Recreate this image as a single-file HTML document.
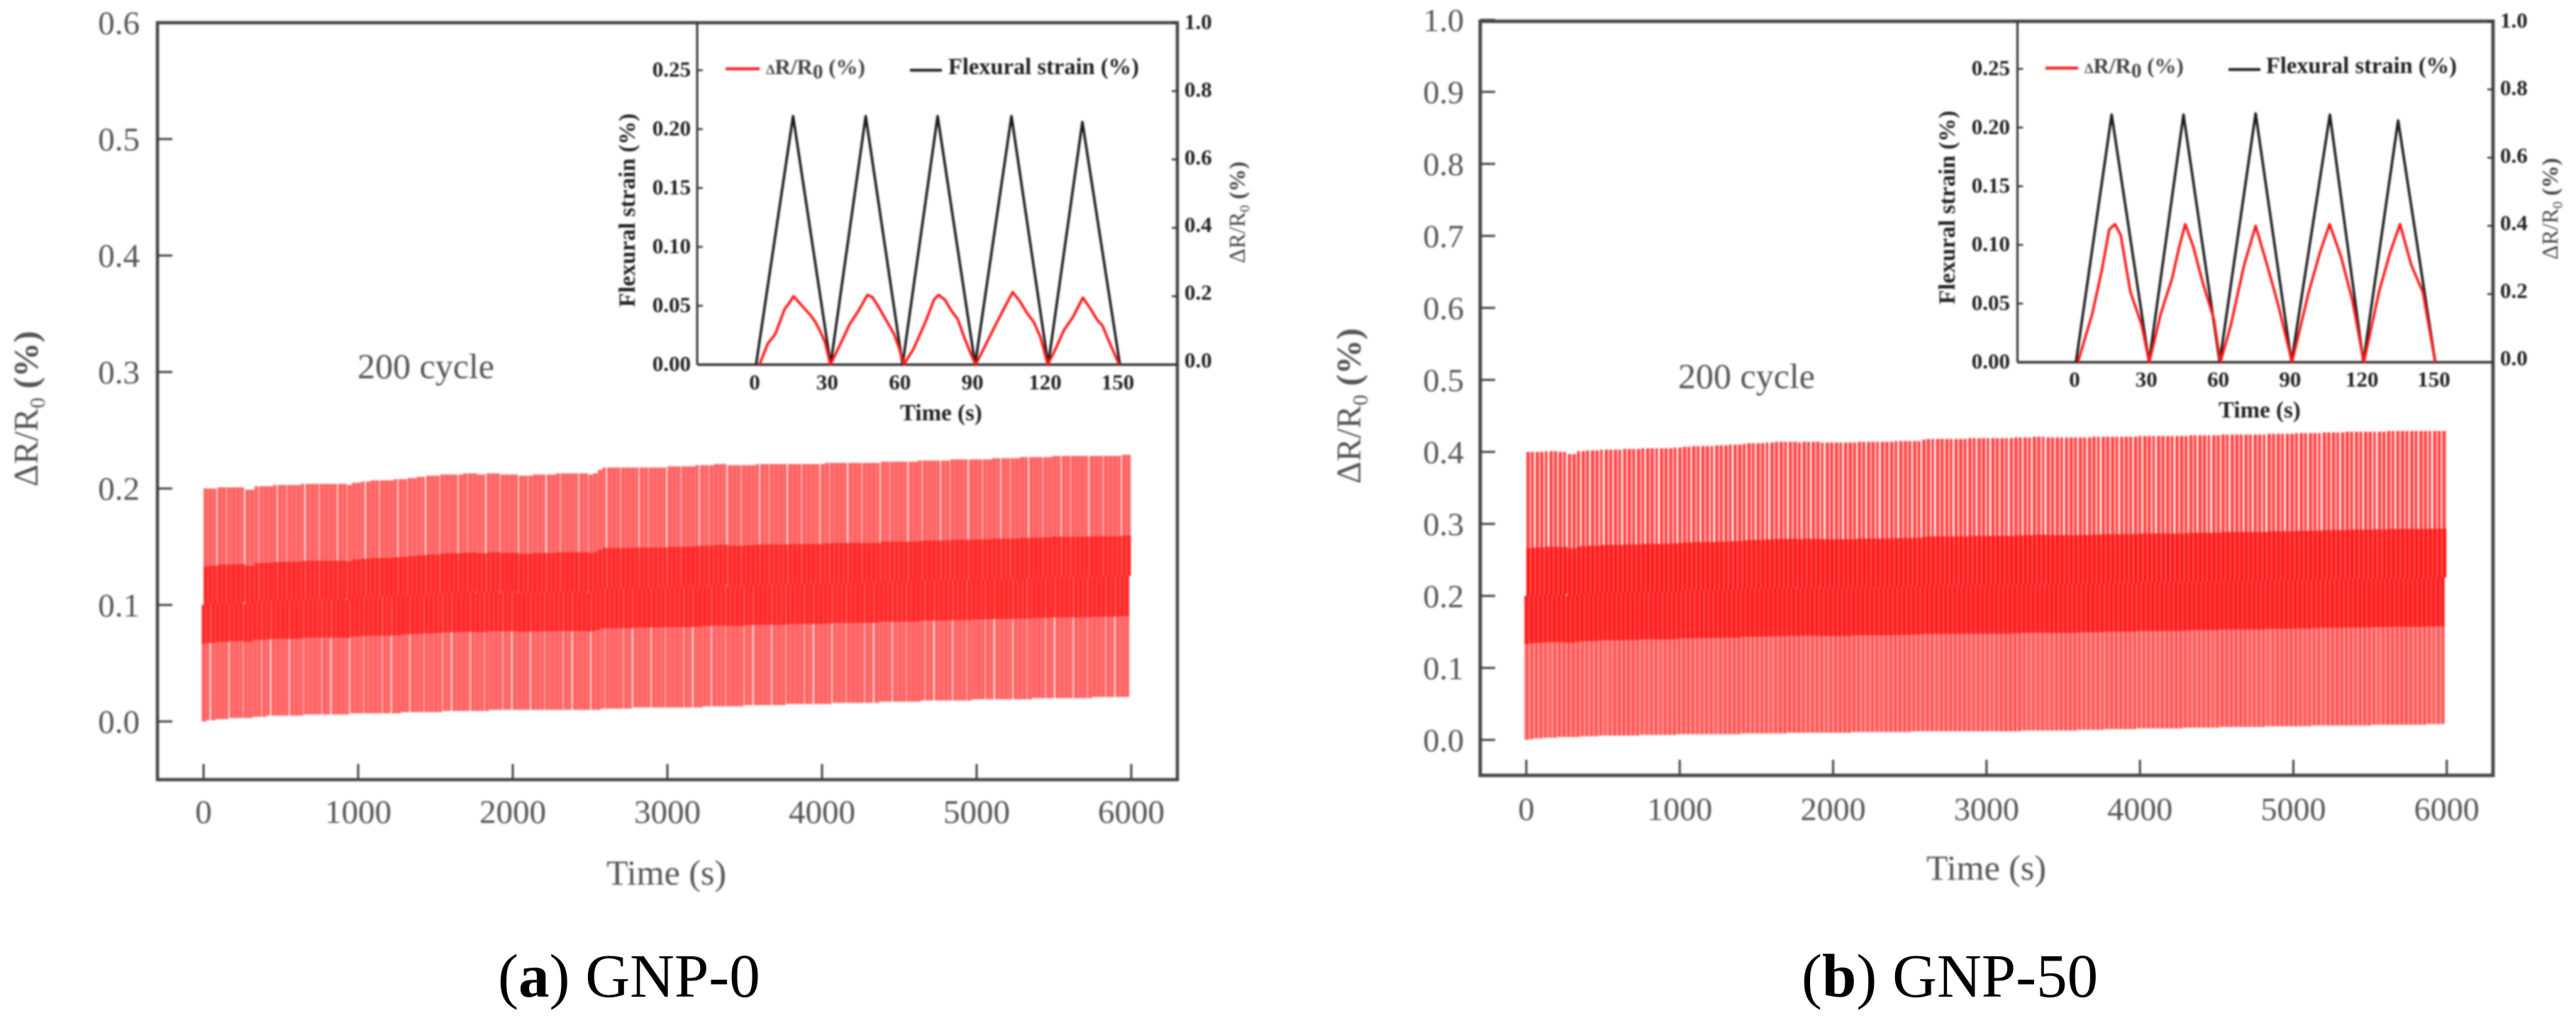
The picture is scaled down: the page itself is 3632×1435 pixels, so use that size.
<!DOCTYPE html>
<html lang="en">
<head>
<meta charset="utf-8">
<title>GNP-0 and GNP-50 cyclic flexural response</title>
<style>
html,body{margin:0;padding:0;background:#fff;}
body{width:3632px;height:1435px;overflow:hidden;}
svg{display:block;font-family:"Liberation Serif","DejaVu Serif",serif;}
</style>
</head>
<body>
<svg id="figure" xmlns="http://www.w3.org/2000/svg" width="3632" height="1435" viewBox="0 0 3632 1435">
  <defs>
    <filter id="soft" filterUnits="userSpaceOnUse" x="0" y="0" width="3632" height="1435" color-interpolation-filters="sRGB">
      <feGaussianBlur stdDeviation="1.3"/>
    </filter>
  </defs>
  <rect x="0" y="0" width="3632" height="1435" fill="#fff"/>
  <g id="plots" filter="url(#soft)"></g>
  <text x="702" y="1405" font-size="87" fill="#000">(<tspan font-weight="bold">a</tspan>) GNP-0</text>
  <text x="2540" y="1405" font-size="87" fill="#000">(<tspan font-weight="bold">b</tspan>) GNP-50</text>
</svg>
<script>
// ---- tick labels ----
const mainXTicks = [0, 1000, 2000, 3000, 4000, 5000, 6000];
const mainYTicksA = ["0.0", "0.1", "0.2", "0.3", "0.4", "0.5", "0.6"];
const mainYTicksB = ["0.0", "0.1", "0.2", "0.3", "0.4", "0.5", "0.6", "0.7", "0.8", "0.9", "1.0"];
const insetXTicks = [0, 30, 60, 90, 120, 150];
const insetStrainTicks = ["0.00", "0.05", "0.10", "0.15", "0.20", "0.25"];
const insetDeltaTicks = ["0.0", "0.2", "0.4", "0.6", "0.8", "1.0"];

// ---- per-cycle maxima and minima (200 cycles) ----
const cyclePeaksA = [
.200,.200,.200,.201,.201,.201,.201,.201,.201,.199,.199,.202,.202,.202,.202,.203,.203,.203,.203,.203,
.203,.204,.204,.204,.204,.204,.204,.204,.204,.204,.204,.203,.205,.205,.206,.206,.207,.207,.207,.207,
.207,.208,.208,.208,.209,.209,.210,.210,.211,.211,.211,.212,.212,.212,.212,.212,.213,.213,.213,.212,
.212,.213,.213,.213,.212,.212,.212,.212,.211,.211,.211,.212,.212,.212,.212,.212,.213,.213,.213,.213,
.213,.213,.213,.212,.213,.216,.218,.218,.218,.218,.218,.218,.218,.218,.218,.218,.218,.218,.218,.218,
.219,.219,.219,.219,.219,.219,.220,.220,.220,.220,.221,.221,.221,.220,.220,.220,.220,.220,.220,.221,
.221,.221,.221,.221,.221,.221,.221,.221,.221,.221,.221,.221,.221,.221,.222,.222,.222,.222,.222,.222,
.222,.222,.222,.222,.222,.222,.223,.223,.223,.223,.223,.223,.223,.223,.224,.224,.224,.224,.224,.224,
.224,.225,.225,.225,.225,.225,.225,.225,.225,.225,.226,.226,.226,.226,.226,.226,.227,.227,.227,.227,
.227,.227,.227,.228,.228,.228,.228,.228,.228,.228,.228,.228,.228,.228,.228,.228,.228,.228,.229,.229];
const cycleTroughsA = [
.000,.001,.001,.002,.002,.002,.003,.003,.003,.003,.003,.004,.004,.004,.005,.005,.005,.005,.005,.005,
.005,.005,.006,.006,.006,.006,.006,.006,.006,.006,.006,.006,.007,.007,.007,.007,.007,.007,.007,.007,
.007,.007,.007,.008,.008,.008,.008,.008,.008,.008,.008,.008,.009,.009,.009,.009,.009,.009,.009,.009,
.009,.009,.010,.010,.010,.010,.010,.010,.010,.010,.010,.010,.010,.010,.010,.010,.010,.010,.010,.010,
.010,.010,.010,.010,.010,.010,.011,.011,.011,.011,.011,.011,.011,.012,.012,.012,.012,.012,.012,.012,
.012,.012,.012,.012,.012,.012,.012,.012,.013,.013,.013,.013,.013,.013,.013,.013,.013,.014,.014,.014,
.014,.014,.014,.014,.014,.014,.015,.015,.015,.015,.015,.015,.015,.015,.015,.015,.016,.016,.016,.016,
.016,.016,.016,.016,.016,.016,.017,.017,.017,.017,.017,.017,.017,.017,.017,.018,.018,.018,.018,.018,
.018,.018,.018,.018,.018,.018,.019,.019,.019,.019,.019,.019,.019,.019,.019,.019,.019,.019,.019,.020,
.020,.020,.020,.020,.020,.020,.020,.020,.020,.020,.020,.020,.021,.021,.021,.021,.021,.021,.021,.021];
const cyclePeaksB = [
.400,.400,.400,.400,.401,.401,.401,.400,.400,.397,.397,.401,.401,.402,.402,.402,.403,.403,.403,.403,
.403,.404,.404,.404,.404,.405,.405,.405,.405,.405,.405,.405,.406,.406,.407,.407,.408,.408,.408,.408,
.408,.409,.409,.409,.410,.410,.410,.411,.412,.412,.412,.412,.413,.413,.414,.414,.414,.414,.414,.413,
.414,.414,.414,.414,.413,.413,.413,.413,.413,.413,.413,.413,.414,.414,.414,.414,.414,.414,.414,.414,
.415,.415,.415,.415,.415,.415,.417,.418,.418,.418,.418,.418,.418,.418,.418,.418,.419,.419,.419,.419,
.419,.419,.419,.419,.419,.419,.420,.420,.420,.420,.421,.421,.421,.420,.420,.420,.420,.420,.420,.420,
.420,.420,.420,.421,.421,.421,.421,.421,.421,.421,.421,.421,.421,.422,.422,.422,.422,.422,.422,.422,
.422,.422,.422,.422,.423,.423,.423,.423,.423,.423,.423,.424,.424,.424,.424,.424,.424,.424,.424,.424,
.424,.425,.425,.425,.425,.425,.425,.426,.426,.426,.426,.426,.426,.427,.427,.427,.427,.427,.428,.428,
.428,.428,.428,.428,.428,.428,.428,.429,.429,.429,.429,.429,.429,.429,.429,.429,.429,.429,.429,.429];
const cycleTroughsB = [
.000,.001,.002,.002,.003,.003,.003,.004,.004,.004,.004,.004,.005,.005,.005,.005,.006,.006,.006,.006,
.006,.006,.006,.006,.006,.007,.007,.007,.007,.007,.007,.007,.007,.008,.008,.008,.008,.008,.008,.008,
.008,.008,.008,.008,.008,.008,.008,.009,.009,.009,.009,.009,.009,.009,.009,.009,.009,.010,.010,.010,
.010,.010,.010,.010,.010,.010,.010,.010,.010,.010,.010,.011,.011,.011,.011,.011,.011,.011,.011,.011,
.011,.011,.011,.011,.012,.012,.012,.012,.012,.012,.012,.012,.012,.012,.012,.012,.012,.012,.012,.012,
.012,.012,.012,.012,.012,.012,.012,.012,.013,.013,.013,.013,.013,.013,.013,.013,.013,.013,.013,.013,
.014,.014,.014,.014,.014,.014,.015,.015,.015,.015,.015,.015,.015,.016,.016,.016,.016,.016,.016,.016,
.016,.016,.016,.017,.017,.017,.017,.017,.017,.017,.017,.018,.018,.018,.018,.018,.018,.018,.018,.018,
.018,.019,.019,.019,.019,.019,.019,.019,.019,.019,.019,.020,.020,.020,.020,.020,.020,.020,.020,.020,
.020,.020,.020,.020,.021,.021,.021,.021,.021,.021,.021,.021,.021,.021,.021,.021,.022,.022,.022,.022];

// ---- inset series ----
const strainTimeA = [0, 15.3, 30.8, 45.3, 60.5, 75, 90.5, 105.5, 120.7, 134.8, 150.3];
const strainValuesA = [0, .211, 0, .211, 0, .211, 0, .211, 0, .206, 0];
const deltaTimeA = [1.4,4.8,7.9,11.9,13.5,15.5,19,22.1,24.5,26.8,28.5,30.7,34.5,38.6,42.5,46,48,50.5,53.5,57,59,61,65,70,73.5,75.4,78,80.5,83.3,86,88.5,90.7,95,99,102.5,106,109,112,114.7,117.5,120.5,124,127.2,131,135,138,141,143,146,150];
const deltaValuesA = [0,.061,.089,.164,.178,.200,.172,.148,.125,.093,.065,0,.055,.117,.160,.204,.198,.170,.133,.090,.050,0,.045,.125,.190,.204,.190,.160,.133,.080,.035,0,.060,.117,.165,.212,.185,.150,.125,.080,0,.050,.101,.140,.196,.165,.130,.115,.065,0];
const strainTimeB = [0, 14.9, 30.5, 44.9, 60, 75, 90, 106, 120, 134.5, 150];
const strainValuesB = [0, .211, 0, .211, 0, .212, 0, .211, 0, .206, 0];
const deltaTimeB = [0.8,6.8,10.8,13.9,16.3,18.7,22.7,27.4,30.6,35.4,40.1,43.2,45.6,48.9,52.8,57.6,60.3,64.7,70.2,75,79.8,84.5,90.2,97.2,102,105.9,110.7,115.4,120.2,126.5,131.3,135.3,140,144.8,150];
const deltaValuesB = [0,.142,.270,.389,.405,.373,.206,.110,0,.142,.245,.341,.405,.341,.237,.126,0,.110,.285,.400,.285,.166,0,.206,.325,.405,.309,.182,0,.206,.325,.405,.285,.206,0];

// ---- layout and styling (not data) ----
const GAPS_A = [0.2, 0.2, 1.5, 0.2, 0.8, 0.2, 0.2, 0.2, 1.8, 0.2, 0.2, 1.0, 0.2];
const GAPS_B = [0.9, 2.2, 0.9, 1.4, 2.6, 0.9, 1.6, 0.9, 2.4, 1.2, 0.9, 2.0];
const layoutA = {
  id: 'a', peaks: cyclePeaksA, troughs: cycleTroughsA, yTicks: mainYTicksA,
  strainT: strainTimeA, strainV: strainValuesA, deltaT: deltaTimeA, deltaV: deltaValuesA,
  l: 222, r: 1660, t: 32, b: 1099, axisW: 4.5, axisC: '#444',
  x0: 287, xk: 0.218, y0: 1017, yk: 1642, fs: 47,
  xLabelY: 1160, yLabelX: 197,
  xTitleX: 855, xTitleY: 1247, yTitleX: 53, yTitleY: 686,
  noteX: 504, noteY: 533,
  il: 983, ib: 514, ix0: 1066, ixk: 3.413, iy0: 514, iyk: 1660, ryk: 482, rLabelTop: 32, rLabelK: 477,
  ixLabelY: 549, iLeftLabelX: 974, iRightLabelX: 1670,
  iXTitleX: 1269, iXTitleY: 592.5, iLTitleX: 895, iLTitleY: 433, iRTitleX: 1755, iRTitleY: 371,
  leg1: [1023, 1071, 97], leg1Text: [1080, 104.5], leg2: [1283, 1328, 99], leg2Text: [1337, 104.5],
  gaps: GAPS_A, accent: false, pink: '#ff6464', dark: '#ff2a2a', lowerShift: -2.6
};
const layoutB = {
  id: 'b', peaks: cyclePeaksB, troughs: cycleTroughsB, yTicks: mainYTicksB,
  strainT: strainTimeB, strainV: strainValuesB, deltaT: deltaTimeB, deltaV: deltaValuesB,
  l: 2087, r: 3515, t: 30, b: 1093, axisW: 5, axisC: '#4a4a4a',
  x0: 2152, xk: 0.2163, y0: 1043, yk: 1015, fs: 46,
  xLabelY: 1156, yLabelX: 2064,
  xTitleX: 2716, xTitleY: 1240, yTitleX: 1918, yTitleY: 682,
  noteX: 2366, noteY: 547,
  il: 2844.5, ib: 510.6, ix0: 2927, ixk: 3.377, iy0: 510.6, iyk: 1654, ryk: 480.6, rLabelTop: 30, rLabelK: 476,
  ixLabelY: 545, iLeftLabelX: 2834, iRightLabelX: 3525,
  iXTitleX: 3128, iXTitleY: 588.6, iLTitleX: 2756, iLTitleY: 429, iRTitleX: 3606, iRTitleY: 366,
  leg1: [2884, 2930, 96], leg1Text: [2939, 103], leg2: [3142, 3187, 98], leg2Text: [3195, 103],
  gaps: GAPS_B, accent: true, pink: '#ff7070', dark: '#ff2424', lowerShift: -2.6
};
const CYCLE_SECONDS = 30;
const SVGNS = 'http://www.w3.org/2000/svg';
const root = document.getElementById('plots');

function mk(tag, attrs, parent, text) {
  const el = document.createElementNS(SVGNS, tag);
  for (const k in attrs) el.setAttribute(k, attrs[k]);
  if (text !== undefined) el.textContent = text;
  parent.appendChild(el);
  return el;
}

function deltaTitle(parent, x, y, size, fill) {
  const t = mk('text', {x: x, y: y, 'font-size': size, fill: fill,
    transform: 'rotate(-90 ' + x + ' ' + y + ')'}, parent);
  mk('tspan', {}, t, '\u0394R/R');
  mk('tspan', {dy: size * 0.2, 'font-size': size * 0.62}, t, '0');
  mk('tspan', {dy: -size * 0.2, 'font-weight': 'bold'}, t, ' (%)');
  return t;
}

function drawPanel(p) {
  const g = mk('g', {}, root);
  
  
  const X = function (t) { return p.x0 + p.xk * t; };
  const Y = function (v) { return p.y0 - p.yk * v; };
  const IX = function (t) { return p.ix0 + p.ixk * t; };
  const IY = function (v) { return p.iy0 - p.iyk * v; };
  const RY = function (v) { return p.iy0 - p.ryk * v; };
  const step = p.xk * CYCLE_SECONDS;

  // cycles
  const marks = mk('g', {}, g);
  
  
  p.peaks.forEach(function (peak, i) {
    const low = p.troughs[i];
    const amp = peak - low;
    const mid = low + amp / 2, bandLo = low + amp / 3, bandHi = low + amp * 2 / 3;
    const x = X(i * CYCLE_SECONDS);
    const gapU = p.gaps[i % p.gaps.length];
    const gapL = p.gaps[(i * 5 + 3) % p.gaps.length];
    const lower = mk('rect', {x: x + p.lowerShift, y: Y(mid), width: step - gapL, height: Y(low) - Y(mid), fill: p.pink}, marks);
    
    
    const upper = mk('rect', {x: x, y: Y(peak), width: step - gapU, height: Y(mid) - Y(peak), fill: p.pink}, marks);
    
    
    const bandA = mk('rect', {x: x + p.lowerShift, y: Y(mid), width: step - 0.5, height: Y(bandLo) - Y(mid), fill: p.dark}, marks);
    
    
    const bandB = mk('rect', {x: x, y: Y(bandHi), width: step - 0.5, height: Y(mid) - Y(bandHi), fill: p.dark}, marks);
    
    
    if (p.accent) {
      const line = mk('rect', {x: x + 1.5, y: Y(peak), width: 1.4, height: Y(low) - Y(peak), fill: '#ff0a0a'}, marks);
      
      
    }
  });

  // frame
  const frame = mk('rect', {x: p.l, y: p.t, width: p.r - p.l, height: p.b - p.t, fill: 'none', stroke: p.axisC, 'stroke-width': p.axisW}, g);
  
  

  // main x ticks
  mainXTicks.forEach(function (t) {
    const tick = mk('line', {x1: X(t), x2: X(t), y1: p.b, y2: p.b - 22, stroke: '#444', 'stroke-width': 3}, g);
    
    
    const lab = mk('text', {x: X(t), y: p.xLabelY, 'font-size': p.fs, fill: '#555', 'text-anchor': 'middle'}, g, String(t));
    
    
  });

  // main y ticks
  p.yTicks.forEach(function (s) {
    const v = parseFloat(s);
    const tick = mk('line', {x1: p.l, x2: p.l + 21, y1: Y(v), y2: Y(v), stroke: '#444', 'stroke-width': 3}, g);
    
    
    const lab = mk('text', {x: p.yLabelX, y: Y(v) + 16, 'font-size': p.fs, fill: '#555', 'text-anchor': 'end'}, g, s);
    
    
  });

  const xTitle = mk('text', {x: p.xTitleX, y: p.xTitleY, 'font-size': 50, fill: '#555'}, g, 'Time (s)');
  
  
  const yTitle = deltaTitle(g, p.yTitleX, p.yTitleY, 49, '#555');
  
  
  const note = mk('text', {x: p.noteX, y: p.noteY, 'font-size': 50, fill: '#555'}, g, '200 cycle');
  
  

  // inset
  const inset = mk('g', {}, g);
  
  
  const iLeft = mk('line', {x1: p.il, x2: p.il, y1: p.t, y2: p.ib, stroke: '#333', 'stroke-width': 3}, inset);
  
  
  const iBottom = mk('line', {x1: p.il, x2: p.r, y1: p.ib, y2: p.ib, stroke: '#333', 'stroke-width': 3.5}, inset);
  
  

  insetXTicks.forEach(function (t) {
    const lab = mk('text', {x: IX(t) - 2, y: p.ixLabelY, 'font-size': 31, 'font-weight': 'bold', fill: '#222', 'text-anchor': 'middle'}, inset, String(t));
    
    
  });
  insetStrainTicks.forEach(function (s) {
    const v = parseFloat(s);
    const tick = mk('line', {x1: p.il, x2: p.il + 8, y1: IY(v), y2: IY(v), stroke: '#333', 'stroke-width': 2.5}, inset);
    
    
    const lab = mk('text', {x: p.iLeftLabelX, y: IY(v) + 9, 'font-size': 31, 'font-weight': 'bold', fill: '#222', 'text-anchor': 'end'}, inset, s);
    
    
  });
  insetDeltaTicks.forEach(function (s) {
    const v = parseFloat(s);
    const tick = mk('line', {x1: p.r, x2: p.r - 8, y1: RY(v), y2: RY(v), stroke: '#333', 'stroke-width': 2.5}, inset);
    
    
    const lab = mk('text', {x: p.iRightLabelX, y: p.rLabelTop + (1 - v) * p.rLabelK + 9, 'font-size': 31, 'font-weight': 'bold', fill: '#222'}, inset, s);
    
    
  });

  const strainPts = p.strainT.map(function (t, i) { return IX(t).toFixed(1) + ',' + IY(p.strainV[i]).toFixed(1); }).join(' ');
  const strainLine = mk('polyline', {points: strainPts, fill: 'none', stroke: '#1c1c1c', 'stroke-width': 3.6, 'stroke-linejoin': 'round'}, inset);
  
  
  const deltaPts = p.deltaT.map(function (t, i) { return IX(t).toFixed(1) + ',' + RY(p.deltaV[i]).toFixed(1); }).join(' ');
  const deltaLine = mk('polyline', {points: deltaPts, fill: 'none', stroke: '#ff1818', 'stroke-width': 3.6, 'stroke-linejoin': 'round'}, inset);
  
  

  const iXTitle = mk('text', {x: p.iXTitleX, y: p.iXTitleY, 'font-size': 33, 'font-weight': 'bold', fill: '#222'}, inset, 'Time (s)');
  
  
  const iLTitle = mk('text', {x: p.iLTitleX, y: p.iLTitleY, 'font-size': 33, 'font-weight': 'bold', fill: '#222',
    transform: 'rotate(-90 ' + p.iLTitleX + ' ' + p.iLTitleY + ')'}, inset, 'Flexural strain (%)');
  
  
  const iRTitle = deltaTitle(inset, p.iRTitleX, p.iRTitleY, 32, '#444');
  
  

  // legend
  const legend = mk('g', {}, inset);
  
  
  const sw1 = mk('line', {x1: p.leg1[0], x2: p.leg1[1], y1: p.leg1[2], y2: p.leg1[2], stroke: '#ff1818', 'stroke-width': 4}, legend);
  
  
  const t1 = mk('text', {x: p.leg1Text[0], y: p.leg1Text[1], 'font-size': 31, 'font-weight': 'bold', fill: '#444'}, legend);
  
  
  mk('tspan', {'font-size': 20}, t1, '\u0394');
  mk('tspan', {}, t1, 'R/R');
  mk('tspan', {dy: 6, 'font-size': 29}, t1, '0');
  mk('tspan', {dy: -6}, t1, ' (%)');
  const sw2 = mk('line', {x1: p.leg2[0], x2: p.leg2[1], y1: p.leg2[2], y2: p.leg2[2], stroke: '#222', 'stroke-width': 4}, legend);
  
  
  const t2 = mk('text', {x: p.leg2Text[0], y: p.leg2Text[1], 'font-size': 32.5, 'font-weight': 'bold', fill: '#222'}, legend, 'Flexural strain (%)');
  
  
}

drawPanel(layoutA);
drawPanel(layoutB);
</script>
</body>
</html>
